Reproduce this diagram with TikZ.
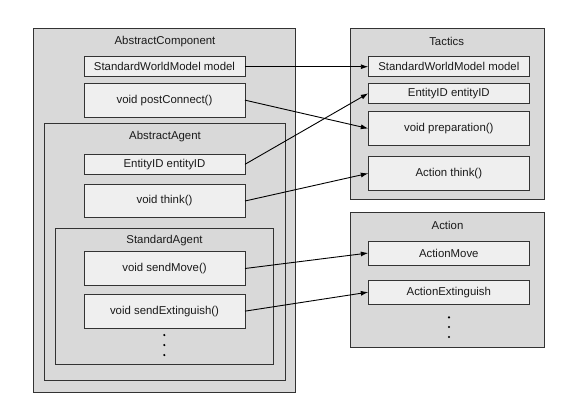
\documentclass[tikz,border=0pt]{standalone}
\usepackage{fontspec}
\setmainfont{Liberation Sans}
\usetikzlibrary{arrows.meta}
\definecolor{outerfill}{HTML}{D9D9D9}
\definecolor{innerfill}{HTML}{EFEFEF}
\definecolor{edge}{HTML}{333333}
\definecolor{txt}{HTML}{1A1A1A}
\begin{document}
\begin{tikzpicture}[x=1pt,y=-1pt,
  every node/.style={font=\fontsize{11.4}{13}\selectfont, text=txt, inner sep=0pt, outer sep=0pt},
  container/.style={draw=edge, line width=1pt, fill=outerfill, rectangle},
  member/.style={draw=edge, line width=1pt, fill=innerfill, rectangle, minimum width=161pt},
  title/.style={anchor=center},
  link/.style={draw=black, line width=0.9pt, -{Latex[length=7.5pt,width=5pt]}},
  dot/.style={circle, fill=black, minimum size=2.4pt}
]
\useasboundingbox (0,0) rectangle (576,410);
\fill[white] (0,0) rectangle (576,410);
% containers
\node[container, minimum width=262.7pt, minimum height=364.7pt] (AC) at (164.35,210.35) {};
\node[title] (ACt) at (165,41.7) {AbstractComponent};
\node[member, minimum height=20pt] (cmodel) at (164.5,66.7) {StandardWorldModel model};
\node[member, minimum height=33.7pt] (cpost) at (164.5,100.15) {void postConnect()};
\node[container, minimum width=240.7pt, minimum height=256.3pt] (AA) at (164.65,251.85) {};
\node[title] (AAt) at (165,136.7) {AbstractAgent};
\node[member, minimum height=20pt] (aid) at (164.5,164.3) {EntityID entityID};
\node[member, minimum height=33.4pt] (athink) at (164.5,201) {void think()};
\node[container, minimum width=218pt, minimum height=136pt] (SA) at (164.3,296.3) {};
\node[title] (SAt) at (164.5,241) {StandardAgent};
\node[member, minimum height=33.6pt] (smove) at (164.5,268.5) {void sendMove()};
\node[member, minimum height=33.7pt] (sext) at (164.5,311.15) {void sendExtinguish()};
\node[dot] (sd1) at (164.3,335) {};
\node[dot] (sd2) at (164.3,345) {};
\node[dot] (sd3) at (164.3,355) {};
% Tactics
\node[container, minimum width=194.3pt, minimum height=171.3pt] (T) at (447.15,113.65) {};
\node[title] (Tt) at (446.7,41) {Tactics};
\node[member, minimum height=20pt] (tmodel) at (448.8,66.7) {StandardWorldModel model};
\node[member, minimum height=20pt] (tid) at (448.8,93.3) {EntityID entityID};
\node[member, minimum height=33.6pt] (tprep) at (448.8,128.5) {void preparation()};
\node[member, minimum height=33.3pt] (tthink) at (448.8,173.35) {Action think()};
% Action
\node[container, minimum width=194.3pt, minimum height=135pt] (A) at (447.15,280.2) {};
\node[title] (At) at (447.5,225) {Action};
\node[member, minimum height=24pt] (amove) at (448.8,253) {ActionMove};
\node[member, minimum height=24.3pt] (aext) at (448.8,292.15) {ActionExtinguish};
\node[dot] (ad1) at (449,317.3) {};
\node[dot] (ad2) at (449,327) {};
\node[dot] (ad3) at (449,337) {};
% links
\draw[link] (cmodel.east) -- (tmodel.west);
\draw[link] (cpost.east) -- (tprep.west);
\draw[link] (aid.east) -- (tid.west);
\draw[link] (athink.east) -- (tthink.west);
\draw[link] (smove.east) -- (amove.west);
\draw[link] (sext.east) -- (aext.west);
\end{tikzpicture}
\end{document}
